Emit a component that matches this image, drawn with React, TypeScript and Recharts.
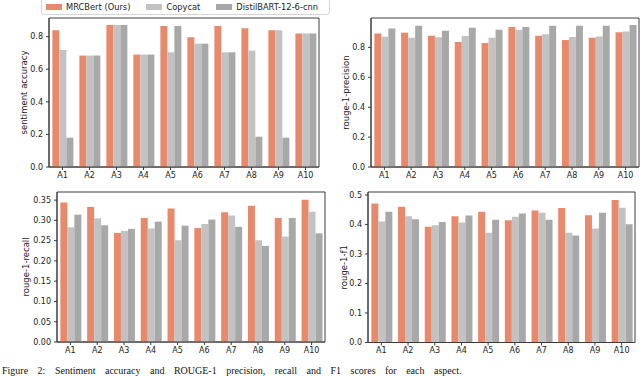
import { BarChart, Bar, XAxis, YAxis, Label, ReferenceArea } from 'recharts';

const aspects = ['A1', 'A2', 'A3', 'A4', 'A5', 'A6', 'A7', 'A8', 'A9', 'A10'];
const seriesNames = ['MRCBert (Ours)', 'Copycat', 'DistilBART-12-6-cnn'];
const seriesColors = ['#e8896b', '#c2c2c2', '#a8a8a8'];

// sentiment accuracy
const sentimentMrc = [0.84, 0.684, 0.871, 0.69, 0.865, 0.796, 0.865, 0.851, 0.84, 0.82];
const sentimentCopycat = [0.718, 0.684, 0.871, 0.69, 0.704, 0.757, 0.704, 0.714, 0.84, 0.82];
const sentimentDistil = [0.18, 0.684, 0.871, 0.69, 0.865, 0.757, 0.704, 0.186, 0.18, 0.82];
const sentimentTicks = [0, 0.2, 0.4, 0.6, 0.8];

// rouge-1 precision
const precisionMrc = [0.893, 0.898, 0.878, 0.836, 0.829, 0.936, 0.878, 0.849, 0.864, 0.902];
const precisionCopycat = [0.871, 0.864, 0.867, 0.876, 0.864, 0.918, 0.887, 0.869, 0.873, 0.907];
const precisionDistil = [0.927, 0.944, 0.911, 0.931, 0.918, 0.936, 0.944, 0.944, 0.944, 0.949];
const precisionTicks = [0, 0.2, 0.4, 0.6, 0.8];

// rouge-1 recall
const recallMrc = [0.344, 0.333, 0.269, 0.306, 0.329, 0.281, 0.32, 0.336, 0.306, 0.351];
const recallCopycat = [0.283, 0.305, 0.274, 0.28, 0.251, 0.291, 0.312, 0.251, 0.26, 0.321];
const recallDistil = [0.314, 0.288, 0.279, 0.297, 0.287, 0.302, 0.284, 0.237, 0.306, 0.268];
const recallTicks = [0, 0.05, 0.1, 0.15, 0.2, 0.25, 0.3, 0.35];

// rouge-1 f1
const f1Mrc = [0.471, 0.46, 0.392, 0.428, 0.443, 0.414, 0.447, 0.456, 0.431, 0.483];
const f1Copycat = [0.41, 0.428, 0.397, 0.407, 0.372, 0.426, 0.44, 0.372, 0.386, 0.457];
const f1Distil = [0.443, 0.418, 0.408, 0.43, 0.416, 0.437, 0.416, 0.363, 0.44, 0.401];
const f1Ticks = [0, 0.1, 0.2, 0.3, 0.4, 0.5];

const W = 640;
const H = 376;
const FONT = '"DejaVu Sans", sans-serif';
const FRAME = '#3c3c3c';
const TEXT = '#222';
const YW = 40;
const XH = 20;

type Rect = { left: number; top: number; right: number; bottom: number };

function Panel(props: {
  rect: Rect;
  series: number[][];
  ticks: number[];
  yMax: number;
  digits: number;
  title: string;
  labelX: number;
}) {
  const { rect, series, ticks, yMax, digits, title, labelX } = props;
  const data = aspects.map((a, i) => ({
    aspect: a,
    mrc: series[0][i],
    copycat: series[1][i],
    distil: series[2][i],
  }));
  const margin = {
    left: rect.left - YW,
    top: rect.top,
    right: W - rect.right,
    bottom: H - rect.bottom - XH,
  };
  const keys = ['mrc', 'copycat', 'distil'];
  return (
    <div style={{ position: 'absolute', left: 0, top: 0 }}>
      <BarChart width={W} height={H} data={data} margin={margin} barCategoryGap="12.5%" barGap={0}>
        <XAxis
          dataKey="aspect"
          height={XH}
          interval={0}
          tickSize={3}
          tickMargin={2}
          axisLine={{ stroke: FRAME }}
          tickLine={{ stroke: FRAME }}
          tick={{ fontSize: 8, fill: TEXT, fontFamily: FONT }}
        />
        <YAxis
          type="number"
          domain={[0, yMax]}
          ticks={ticks}
          allowDataOverflow
          width={YW}
          tickSize={3}
          tickMargin={3}
          axisLine={{ stroke: FRAME }}
          tickLine={{ stroke: FRAME }}
          tick={{ fontSize: 8, fill: TEXT, fontFamily: FONT }}
          tickFormatter={(v: number) => v.toFixed(digits)}
        >
          <Label
            value={title}
            angle={-90}
            position="insideLeft"
            offset={labelX - margin.left}
            style={{ textAnchor: 'middle', fontSize: 8.5, fill: TEXT, fontFamily: FONT }}
          />
        </YAxis>
        {keys.map((k, i) => (
          <Bar key={k} dataKey={k} fill={seriesColors[i]} isAnimationActive={false} />
        ))}
        {/* matplotlib-style box around the axes */}
        <ReferenceArea y1={0} y2={yMax} fill="none" stroke={FRAME} strokeWidth={1} ifOverflow="visible" />
      </BarChart>
    </div>
  );
}

export default function App() {
  return (
    <div
      style={{
        position: 'absolute',
        left: 0,
        top: 0,
        width: W,
        height: H,
        overflow: 'hidden',
        background: '#fff',
      }}
    >
      <Panel
        rect={{ left: 49, top: 18, right: 319, bottom: 167 }}
        series={[sentimentMrc, sentimentCopycat, sentimentDistil]}
        ticks={sentimentTicks}
        yMax={0.9145}
        digits={1}
        title="sentiment accuracy"
        labelX={24}
      />
      <Panel
        rect={{ left: 371, top: 18, right: 639, bottom: 167 }}
        series={[precisionMrc, precisionCopycat, precisionDistil]}
        ticks={precisionTicks}
        yMax={0.9965}
        digits={1}
        title="rouge-1-precision"
        labelX={346}
      />
      <Panel
        rect={{ left: 57, top: 192, right: 325, bottom: 342 }}
        series={[recallMrc, recallCopycat, recallDistil]}
        ticks={recallTicks}
        yMax={0.37}
        digits={2}
        title="rouge-1-recall"
        labelX={25.5}
      />
      <Panel
        rect={{ left: 368, top: 192, right: 635, bottom: 342.5 }}
        series={[f1Mrc, f1Copycat, f1Distil]}
        ticks={f1Ticks}
        yMax={0.51}
        digits={1}
        title="rouge-1-f1"
        labelX={343.5}
      />

      {/* legend */}
      <div
        style={{
          position: 'absolute',
          left: 41,
          top: -2,
          width: 289,
          height: 17,
          boxSizing: 'border-box',
          border: '1px solid #d6d6d6',
          borderRadius: 3,
          background: '#fff',
          display: 'flex',
          alignItems: 'center',
          paddingLeft: 4,
          fontFamily: FONT,
          fontSize: 8.3,
          color: TEXT,
          whiteSpace: 'nowrap',
        }}
      >
        {seriesNames.map((name, i) => (
          <div key={name} style={{ display: 'flex', alignItems: 'center', marginRight: 16 }}>
            <span style={{ display: 'inline-block', width: 16, height: 6, background: seriesColors[i], marginRight: 4 }} />
            <span>{name}</span>
          </div>
        ))}
      </div>

      {/* figure caption under the panels */}
      <div
        style={{
          position: 'absolute',
          left: 2,
          top: 365,
          fontFamily: '"Liberation Serif", serif',
          fontSize: 10,
          lineHeight: '11px',
          wordSpacing: 7,
          whiteSpace: 'nowrap',
          color: '#111',
        }}
      >
        Figure 2: Sentiment accuracy and ROUGE-1 precision, recall and F1 scores for each aspect.
      </div>
    </div>
  );
}
